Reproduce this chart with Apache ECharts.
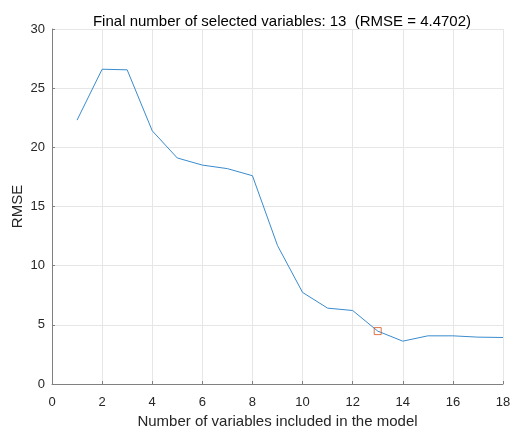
<!DOCTYPE html>
<html>
<head>
<meta charset="utf-8">
<script src="https://cdn.jsdelivr.net/npm/echarts@6/dist/echarts.min.js"></script>
<style>
  html, body { margin: 0; padding: 0; background: #fff; }
  #chart { width: 511px; height: 430px; }
</style>
</head>
<body>
<div id="chart"></div>
<script>
// number of variables vs RMSE
const numVars = [1, 2, 3, 4, 5, 6, 7, 8, 9, 10, 11, 12, 13, 14, 15, 16, 17, 18];
const rmseValues = [22.3, 26.6, 26.55, 21.4, 19.1, 18.5, 18.2, 17.6, 11.7, 7.74, 6.41, 6.21, 4.4702, 3.62, 4.07, 4.07, 3.96, 3.93];
const selectedVar = 13;
const selectedRmse = 4.4702;

const chart = echarts.init(document.getElementById('chart'));
const textColor = '#262626';
const gridColor = '#e6e6e6';
const axisColor = '#808080';

chart.setOption({
    animation: false,
    title: {
        text: 'Final number of selected variables: ' + selectedVar + '  (RMSE = ' + selectedRmse.toFixed(4) + ')',
        left: 277, top: 9, textAlign: 'center',
        textStyle: { fontFamily: 'Liberation Sans', fontSize: 15, fontWeight: 'normal', color: '#000' }
    },
    grid: { left: 52, right: 8, top: 29, bottom: 46, containLabel: false, outerBoundsMode: 'none' },
    xAxis: {
        type: 'value', min: 0, max: 18, interval: 2,
        name: 'Number of variables included in the model',
        nameLocation: 'middle', nameGap: 30, nameMoveOverlap: false,
        nameTextStyle: { fontFamily: 'Liberation Sans', fontSize: 15, color: textColor },
        axisLine: { show: true, onZero: false, lineStyle: { color: axisColor } },
        axisTick: { show: true, inside: true, length: 3, lineStyle: { color: axisColor } },
        axisLabel: { fontFamily: 'Liberation Sans', fontSize: 13, color: textColor, margin: 12 },
        splitLine: { show: true, lineStyle: { color: gridColor } }
    },
    yAxis: {
        type: 'value', min: 0, max: 30, interval: 5,
        name: 'RMSE',
        nameLocation: 'middle', nameGap: 27, nameRotate: 90, nameMoveOverlap: false,
        nameTextStyle: { fontFamily: 'Liberation Sans', fontSize: 15, color: textColor },
        axisLine: { show: true, onZero: false, lineStyle: { color: axisColor } },
        axisTick: { show: true, inside: true, length: 3, lineStyle: { color: axisColor } },
        axisLabel: { fontFamily: 'Liberation Sans', fontSize: 13, color: textColor, margin: 7 },
        splitLine: { show: true, lineStyle: { color: gridColor } }
    },
    series: [
        {
            type: 'line',
            data: numVars.map((v, i) => [v, rmseValues[i]]),
            showSymbol: false,
            lineStyle: { color: '#3a8bcd', width: 1 },
            z: 2
        },
        {
            type: 'scatter',
            data: [[selectedVar, selectedRmse]],
            symbol: 'rect', symbolSize: 7,
            itemStyle: { color: 'transparent', borderColor: '#D95319', borderWidth: 1 },
            z: 3
        }
    ]
});

window.addEventListener('resize', function() { chart.resize(); });
</script>
</body>
</html>
